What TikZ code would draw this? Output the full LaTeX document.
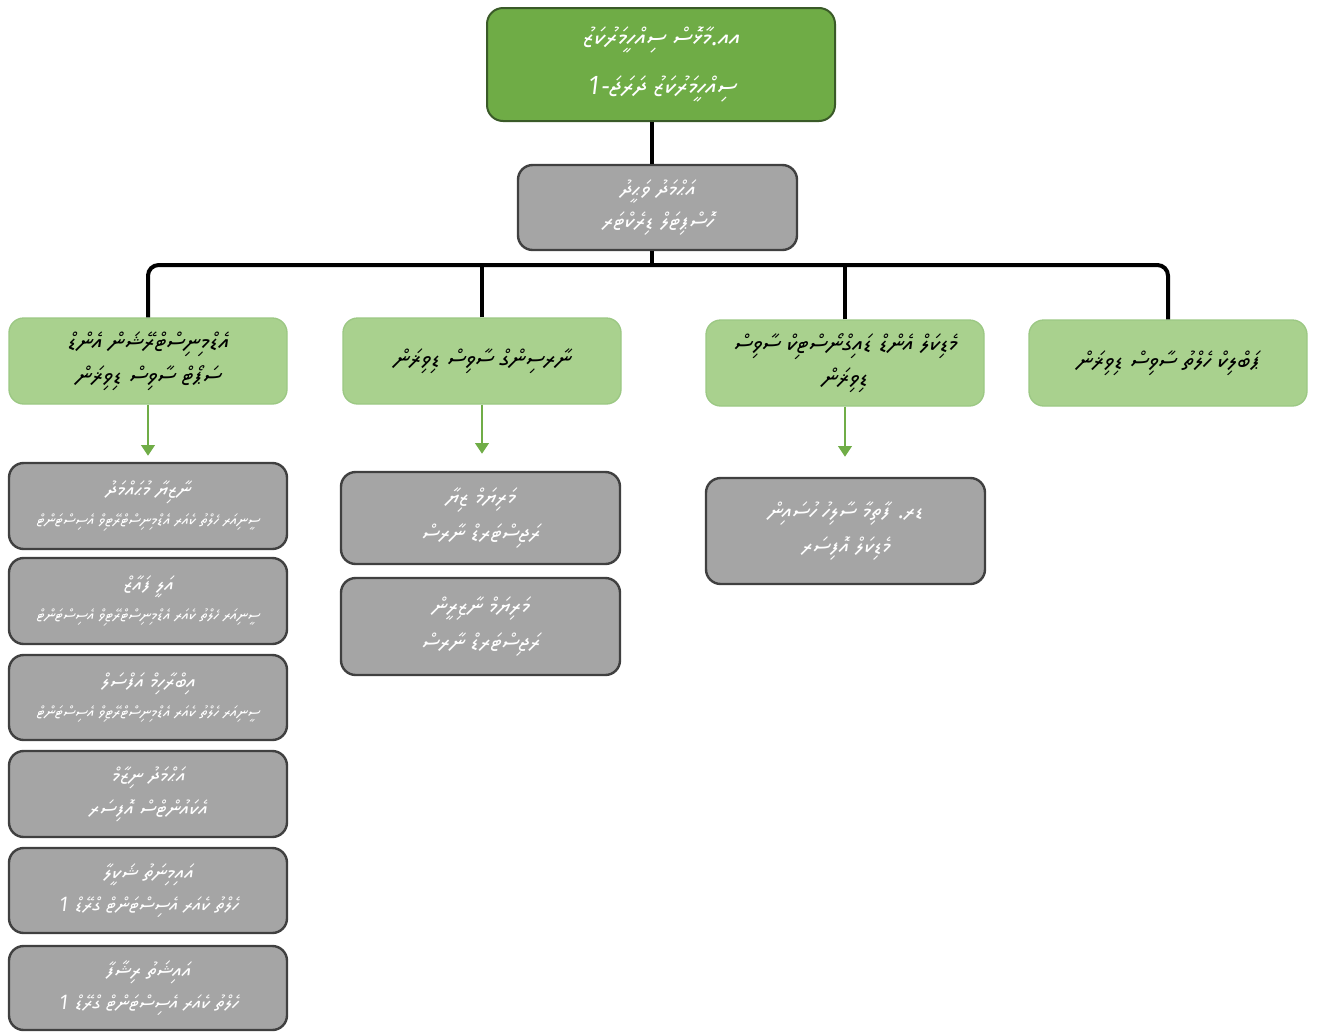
\documentclass[tikz,border=0pt]{standalone}
\usepackage{fontspec}
\usetikzlibrary{arrows.meta}
\TeXXeTstate=1
\IfFontExistsTF{Noto Sans Thaana}
  {\newfontfamily\thaana[Script=Thaana,FakeSlant=0.12]{Noto Sans Thaana}}
  {\IfFontExistsTF{FreeSerif}
    {\newfontfamily\thaana[Script=Thaana,FakeSlant=0.12]{FreeSerif}}
    {\newfontfamily\thaana{DejaVu Sans}}}
\newcommand\dv[1]{{\thaana\beginR #1\endR}}
\definecolor{dkgreen}{HTML}{6FAC46}
\definecolor{dkgreenline}{HTML}{3A5A28}
\definecolor{ltgreen}{HTML}{A9D18E}
\definecolor{ltgreenline}{HTML}{9CC884}
\definecolor{boxgrey}{HTML}{A5A5A5}
\definecolor{greyline}{HTML}{404040}
\definecolor{arrowgreen}{HTML}{70AD47}
\tikzset{
  topbox/.style={draw=dkgreenline, fill=dkgreen, line width=1.5pt, rounded corners=12pt, text=white, align=center, inner sep=0pt},
  greybox/.style={draw=greyline, fill=boxgrey, line width=1.8pt, rounded corners=11pt, text=white, align=center, inner sep=0pt},
  divbox/.style={draw=ltgreenline, fill=ltgreen, line width=1pt, rounded corners=11pt, text=black, align=center, inner sep=0pt},
  conn/.style={line width=3pt, black},
  garrow/.style={line width=2.2pt, arrowgreen, -{Triangle[length=8pt,width=10pt]}},
  smalltxt/.style={font=\fontsize{16}{22}\selectfont},
}
\newcommand\subl[1]{{\fontsize{12}{22}\selectfont\dv{#1}}}
\begin{document}
\begin{tikzpicture}[x=0.75pt,y=-0.75pt]
\useasboundingbox (0,0) rectangle (1318,1032);
\clip (0,0) rectangle (1318,1032);
\fill[white] (0,0) rectangle (1318,1032);

\node[topbox, minimum width=261pt, minimum height=84.75pt, font=\fontsize{19}{37}\selectfont] (top) at (661,64.5)
  {\dv{އއ.މާޅޮސް ސިއްހީމަރުކަޒު}\\\dv{ސިއްހީމަރުކަޒު ދަރަޖަ-1}};
\node[greybox, minimum width=209.25pt, minimum height=63.75pt, font=\fontsize{17}{24}\selectfont] (head) at (657.5,207.5)
  {\dv{އަޙްމަދު ވަޙީދު}\\\dv{ހޮސްޕިޓަލް ޑިރެކްޓަރ}};

\node[divbox, minimum width=208.5pt, minimum height=64.5pt, font=\fontsize{18}{25}\selectfont] (g1) at (148,361)
  {\dv{އެޑްމިނިސްޓްރޭޝަން އެންޑް}\\\dv{ސަޕޯޓް ސާވިސް ޑިވިޜަން}};
\node[divbox, minimum width=208.5pt, minimum height=64.5pt, font=\fontsize{18}{25}\selectfont] (g2) at (482,361)
  {\dv{ނާރސިންގް ސާވިސް ޑިވިޜަން}};
\node[divbox, minimum width=208.5pt, minimum height=64.5pt, font=\fontsize{18}{25}\selectfont] (g3) at (845,363)
  {\dv{މެޑިކަލް އެންޑް ޑައިގްނޯސްޓިކް ސާވިސް}\\\dv{ޑިވިޜަން}};
\node[divbox, minimum width=208.5pt, minimum height=64.5pt, font=\fontsize{18}{25}\selectfont] (g4) at (1168,363)
  {\dv{ޕަބްލިކް ހެލްތު ސާވިސް ޑިވިޜަން}};

\node[greybox, minimum width=208.5pt, minimum height=64.5pt, smalltxt] (l1) at (148,506)
  {\dv{ނާޒިޔާ މުޙައްމަދު}\\\subl{ސީނިއަރ ހެލްތު ކެއަރ އެޑްމިނިސްޓްރޭޓިވް އެސިސްޓަންޓް}};
\node[greybox, minimum width=208.5pt, minimum height=64.5pt, smalltxt] (l2) at (148,601)
  {\dv{އަލީ ފައާޒް}\\\subl{ސީނިއަރ ހެލްތު ކެއަރ އެޑްމިނިސްޓްރޭޓިވް އެސިސްޓަންޓް}};
\node[greybox, minimum width=208.5pt, minimum height=63.75pt, smalltxt] (l3) at (148,697.5)
  {\dv{އިބްރާހިމް އަފްސަލް}\\\subl{ސީނިއަރ ހެލްތު ކެއަރ އެޑްމިނިސްޓްރޭޓިވް އެސިސްޓަންޓް}};
\node[greybox, minimum width=208.5pt, minimum height=64.5pt, font=\fontsize{16}{25}\selectfont] (l4) at (148,794)
  {\dv{އަޙްމަދު ނިޒާމް}\\\dv{އެކައުންޓްސް އޮފިސަރ}};
\node[greybox, minimum width=208.5pt, minimum height=63.75pt, font=\fontsize{16}{24}\selectfont] (l5) at (148,890.5)
  {\dv{އައިމިނަތު ޝަކީލާ}\\{\fontsize{15}{24}\selectfont\dv{ހެލްތު ކެއަރ އެސިސްޓަންޓް ގްރޭޑް 1}}};
\node[greybox, minimum width=208.5pt, minimum height=63pt, font=\fontsize{16}{24}\selectfont] (l6) at (148,988)
  {\dv{އައިޝަތު ރިޝާފާ}\\{\fontsize{15}{24}\selectfont\dv{ހެލްތު ކެއަރ އެސިސްޓަންޓް ގްރޭޑް 1}}};

\node[greybox, minimum width=209.25pt, minimum height=69pt, font=\fontsize{17}{27}\selectfont] (m1) at (480.5,518)
  {\dv{މަރިޔަމް ޒިޔާ}\\\dv{ރަޖިސްޓަރޑް ނާރސް}};
\node[greybox, minimum width=209.25pt, minimum height=72.75pt, font=\fontsize{17}{27}\selectfont] (m2) at (480.5,626.5)
  {\dv{މަރިޔަމް ނާޒިރީން}\\\dv{ރަޖިސްޓަރޑް ނާރސް}};

\node[greybox, minimum width=209.25pt, minimum height=79.5pt, font=\fontsize{17}{26}\selectfont] (r1) at (845.5,531)
  {\dv{ޑރ. ފާތިމާ ސާލިހު ހުސައިން}\\\dv{މެޑިކަލް އޮފިސަރ}};

% connectors
\coordinate (bus) at (652,265);
\draw[conn] (top.south -| bus) -- (head.north -| bus);
\draw[conn] (head.south -| bus) -- (bus);
\draw[conn, rounded corners=8pt] (g1.north) |- (bus) -| (g4.north);
\draw[conn] (g2.north) -- (g2.north |- bus);
\draw[conn] (g3.north) -- (g3.north |- bus);

\draw[garrow, shorten >=4.5pt] (g1.south) -- (l1.north);
\draw[garrow, shorten >=12.75pt] (g2.south) -- (g2.south |- m1.north);
\draw[garrow, shorten >=15pt] (g3.south) -- (g3.south |- r1.north);
\end{tikzpicture}
\end{document}
